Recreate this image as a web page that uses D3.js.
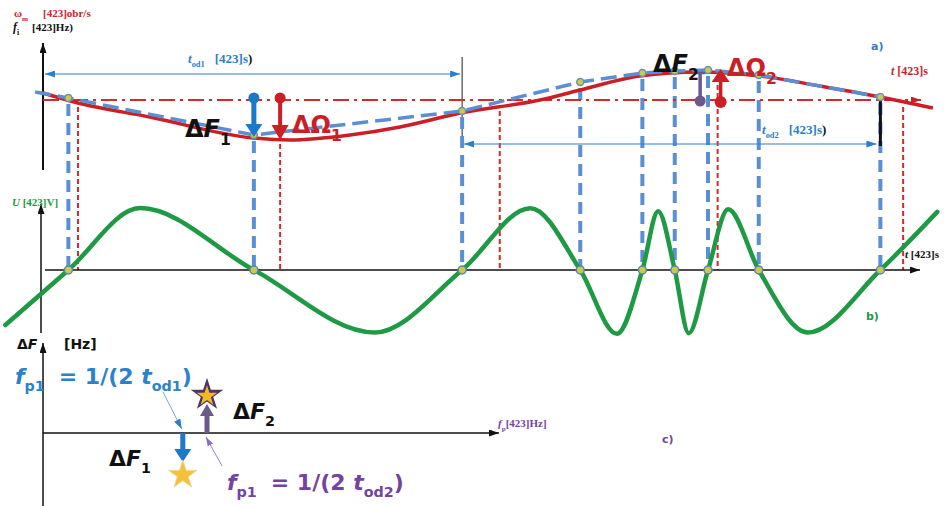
<!DOCTYPE html>
<html>
<head>
<meta charset="utf-8">
<script src="https://cdn.jsdelivr.net/npm/d3@7"></script>
<style>body{margin:0;background:#fff}</style>
</head>
<body>
<svg id="chart" width="947" height="506"></svg>
<script>
// a) rotor speed (red) and instantaneous frequency (blue), deviation from nominal
const omT = [0, 0.4, 1.22, 2.4, 2.82, 3.51, 4.08, 4.77, 5.68, 6.14, 6.82, 7.51, 8.19, 8.88, 9.57, 10.17];
const omV = [7, -3, -17, -38, -40, -35, -27, -13, 0, 10, 24, 28, 24, 14, 3, -8];
const fiT = [-0.09, 0.29, 2.41, 4.79, 6.14, 6.85, 7.22, 7.6, 8.18, 9.57];
const fiV = [8, 2, -35, -11, 18, 27, 29, 30, 25, 3];
const crossT = fiT.slice(1);
const omMarkT = [0.4, 2.71, 5.22, 7.71, 9.83];
const omMarkV = [-3, -40, -7, 27, -3];
const dF2T = 7.51, dF2V = 27;

// b) voltage
const uT = [-0.43, 0.29, 1.11, 2.41, 3.79, 4.79, 5.57, 6.14, 6.56, 6.85, 7.03, 7.22, 7.38, 7.6, 7.83, 8.18, 8.74, 9.57, 10.22];
const uV = [-0.88, 0, 0.99, 0, -1.0, 0, 0.99, 0, -1.02, 0, 0.94, 0, -1.01, 0, 0.97, 0, -1.0, 0, 0.93];

// c) spectrum
const specFp = [0.104, 0.122];
const specDF = [-1.0, 0.95];

const svg = d3.select("#chart");
const x  = d3.scaleLinear().domain([0, 10]).range([43, 918]);
const yA = d3.scaleLinear().domain([-50, 50]).range([150, 50]);
const yB = d3.scaleLinear().domain([-1, 1]).range([332.5, 207.5]);
const xC = d3.scaleLinear().domain([0, 0.34]).range([43, 500]);
const yC = d3.scaleLinear().domain([-1, 1]).range([473, 393]);

const RED = "#cc1f25", BLUED = "#5b8fd3", GREEN = "#1e9a45", BLUE = "#1c78c8", PURP = "#6a5a8c", PTXT = "#7443a2";

const defs = svg.append("defs");
function marker(id, color, w, h) {
  defs.append("marker").attr("id", id).attr("markerUnits", "userSpaceOnUse")
    .attr("markerWidth", w).attr("markerHeight", h).attr("refX", w).attr("refY", h / 2)
    .attr("orient", "auto-start-reverse")
    .append("path").attr("d", `M0,0L${w},${h/2}L0,${h}Z`).attr("fill", color);
}
marker("aBlack", "#111", 10, 7);
marker("aBlue", "#2a7fcc", 10, 7);
marker("aRed", RED, 10, 7);
marker("aPurp", "#8a70b8", 9, 6);

function rich(x0, y0, size, color, parts, opt = {}) {
  const t = svg.append("text").attr("x", x0).attr("y", y0).attr("font-size", size)
    .attr("font-family", opt.family || "DejaVu Sans").attr("font-weight", opt.weight || "bold")
    .attr("fill", color);
  let shifted = 0;
  parts.forEach(p => {
    const s = t.append("tspan").text(p.t);
    const target = p.sub ? size * 0.32 : 0;
    if (target !== shifted) { s.attr("dy", target - shifted); shifted = target; }
    if (p.sub) s.attr("font-size", size * 0.65);
    if (p.it) s.attr("font-style", "italic");
    if (p.fill) s.attr("fill", p.fill);
    if (p.dx) s.attr("dx", p.dx);
  });
  return t;
}

function thickArrow(px, y0, y1, color, w, hw, hl) {
  const dir = y1 > y0 ? 1 : -1;
  svg.append("line").attr("x1", px).attr("x2", px).attr("y1", y0).attr("y2", y1 - dir * hl)
    .attr("stroke", color).attr("stroke-width", w);
  svg.append("path").attr("d", `M${px - hw / 2},${y1 - dir * hl}L${px + hw / 2},${y1 - dir * hl}L${px},${y1}Z`)
    .attr("fill", color);
}

// ---------- verticals (behind curves)
svg.append("g").selectAll("line").data(omMarkT).join("line")
  .attr("x1", d => x(d)).attr("x2", d => x(d))
  .attr("y1", (d, i) => yA(omMarkV[i]) + 4).attr("y2", yB(0))
  .attr("stroke", "#d42a2a").attr("stroke-width", 2).attr("stroke-dasharray", "5,3");

svg.append("line").attr("x1", x(crossT[2])).attr("x2", x(crossT[2])).attr("y1", 57).attr("y2", 145)
  .attr("stroke", "#222").attr("stroke-width", 1);

svg.append("g").selectAll("line").data(crossT).join("line")
  .attr("x1", d => x(d)).attr("x2", d => x(d))
  .attr("y1", (d, i) => yA(fiV[i + 1]) + 6).attr("y2", yB(0))
  .attr("stroke", BLUED).attr("stroke-width", 4).attr("stroke-dasharray", "12,7");

// ---------- panel a
svg.append("line").attr("x1", x(0)).attr("x2", x(0)).attr("y1", 170).attr("y2", 43)
  .attr("stroke", "#111").attr("stroke-width", 2).attr("marker-end", "url(#aBlack)");

svg.append("line").attr("x1", x(0)).attr("x2", 921).attr("y1", yA(0)).attr("y2", yA(0))
  .attr("stroke", "#d42a2a").attr("stroke-width", 2).attr("stroke-dasharray", "16,5,3,5")
  .attr("marker-end", "url(#aRed)");

// time interval arrows
svg.append("line").attr("x1", x(0) + 2).attr("x2", x(crossT[2]) - 2).attr("y1", 74).attr("y2", 74)
  .attr("stroke", "#2a7fcc").attr("stroke-width", 1.2)
  .attr("marker-start", "url(#aBlue)").attr("marker-end", "url(#aBlue)");
svg.append("line").attr("x1", x(crossT[2]) + 2).attr("x2", x(crossT[8]) - 4).attr("y1", 144).attr("y2", 144)
  .attr("stroke", "#2a7fcc").attr("stroke-width", 1.2)
  .attr("marker-start", "url(#aBlue)").attr("marker-end", "url(#aBlue)");

const lineA = d3.line().curve(d3.curveMonotoneX);
svg.append("path")
  .attr("d", lineA(omT.map((t, i) => [x(t), yA(omV[i])])))
  .attr("fill", "none").attr("stroke", RED).attr("stroke-width", 3.5);

svg.append("path")
  .attr("d", d3.line()(fiT.map((t, i) => [x(t), yA(fiV[i])])))
  .attr("fill", "none").attr("stroke", BLUED).attr("stroke-width", 3.5)
  .attr("stroke-dasharray", "16,7").attr("stroke-linejoin", "round");

svg.append("line").attr("x1", x(crossT[8])).attr("x2", x(crossT[8])).attr("y1", 94).attr("y2", 146)
  .attr("stroke", "#111").attr("stroke-width", 3);

svg.append("g").selectAll("circle").data(crossT).join("circle")
  .attr("cx", d => x(d)).attr("cy", (d, i) => yA(fiV[i + 1]))
  .attr("r", 3.5).attr("fill", "#c8cc4a").attr("stroke", "#6a8fb8").attr("stroke-width", 1.5);

// delta markers in a)
const xdF1 = x(crossT[1]);
svg.append("circle").attr("cx", xdF1).attr("cy", yA(2)).attr("r", 5.5).attr("fill", BLUE);
thickArrow(xdF1, yA(2), yA(fiV[2]) + 2, BLUE, 5, 17, 13);

const xdO1 = x(omMarkT[1]);
svg.append("circle").attr("cx", xdO1).attr("cy", yA(2)).attr("r", 5.5).attr("fill", RED);
thickArrow(xdO1, yA(2), yA(omMarkV[1]), RED, 4, 17, 15);

const xdF2 = x(dF2T);
svg.append("line").attr("x1", xdF2).attr("x2", xdF2).attr("y1", yA(dF2V)).attr("y2", yA(0))
  .attr("stroke", PURP).attr("stroke-width", 3.5);
svg.append("line").attr("x1", xdF2 - 5).attr("x2", xdF2 + 5).attr("y1", yA(dF2V)).attr("y2", yA(dF2V))
  .attr("stroke", PURP).attr("stroke-width", 2.5);
svg.append("circle").attr("cx", xdF2).attr("cy", yA(-1)).attr("r", 5.5).attr("fill", PURP);

const xdO2 = x(omMarkT[3]) + 3;
svg.append("circle").attr("cx", xdO2).attr("cy", yA(-2)).attr("r", 6).attr("fill", RED);
thickArrow(xdO2, yA(-2), yA(omMarkV[3]) - 4, RED, 3.5, 18, 13);

// labels a)
rich(14, 17, 11, "#c0282d", [{ t: "ω" }, { t: "m", sub: true }], { family: "Liberation Serif" });
rich(43, 17, 11, "#c0282d", [{ t: "[423]obr/s" }], { family: "Liberation Serif" });
rich(13, 31, 12, "#111", [{ t: "f", it: true }, { t: "i", sub: true }], { family: "Liberation Serif" });
rich(32, 31, 11, "#111", [{ t: "[423]Hz)" }], { family: "Liberation Serif" });
rich(188, 63, 13, "#2a7fcc", [{ t: "t", it: true }, { t: "od1", sub: true }, { t: "[423]s", dx: 10 }, { t: ")", fill: "#111" }], { family: "Liberation Serif" });
rich(762, 134, 13, "#2a7fcc", [{ t: "t", it: true }, { t: "od2", sub: true }, { t: "[423]s", dx: 10 }, { t: ")", fill: "#111" }], { family: "Liberation Serif" });
rich(891, 75, 12, "#c0282d", [{ t: "t", it: true }, { t: " [423]s" }], { family: "Liberation Serif" });
rich(871, 50, 11, "#3a7abf", [{ t: "a)" }]);
rich(185, 137, 24, "#111", [{ t: "Δ" }, { t: "F", it: true }, { t: "1", sub: true }]);
rich(292, 133, 24, RED, [{ t: "ΔΩ" }, { t: "1", sub: true }]);
rich(653, 72, 24, "#111", [{ t: "Δ" }, { t: "F", it: true }, { t: "2", sub: true }]);
rich(727, 76, 24, RED, [{ t: "ΔΩ" }, { t: "2", sub: true }]);

// ---------- panel b
svg.append("line").attr("x1", 41).attr("x2", 41).attr("y1", 333).attr("y2", 204)
  .attr("stroke", "#111").attr("stroke-width", 1.5).attr("marker-end", "url(#aBlack)");
svg.append("line").attr("x1", 45).attr("x2", 920).attr("y1", yB(0)).attr("y2", yB(0))
  .attr("stroke", "#111").attr("stroke-width", 1.5).attr("marker-end", "url(#aBlack)");

svg.append("path")
  .attr("d", d3.line().curve(d3.curveMonotoneX)(uT.map((t, i) => [x(t), yB(uV[i])])))
  .attr("fill", "none").attr("stroke", GREEN).attr("stroke-width", 4.5).attr("stroke-linecap", "round");

svg.append("g").selectAll("circle").data(crossT).join("circle")
  .attr("cx", d => x(d)).attr("cy", yB(0))
  .attr("r", 4).attr("fill", "#c8cc4a").attr("stroke", "#5a80b8").attr("stroke-width", 1.5);

rich(12, 206, 11, GREEN, [{ t: "U", it: true }, { t: " [423]V]" }], { family: "Liberation Serif" });
rich(905, 258, 11, "#111", [{ t: "t", it: true }, { t: " [423]s" }], { family: "Liberation Serif" });
rich(866, 320, 11, GREEN, [{ t: "b)" }]);

// ---------- panel c
svg.append("line").attr("x1", 43).attr("x2", 43).attr("y1", 506).attr("y2", 343)
  .attr("stroke", "#111").attr("stroke-width", 1.5).attr("marker-end", "url(#aBlack)");
svg.append("line").attr("x1", 43).attr("x2", 499).attr("y1", yC(0)).attr("y2", yC(0))
  .attr("stroke", "#111").attr("stroke-width", 1.5).attr("marker-end", "url(#aBlack)");

const xs1 = xC(specFp[0]), xs2 = xC(specFp[1]);
// thin pointer arrows
svg.append("line").attr("x1", 163).attr("y1", 392).attr("x2", xs1 - 1).attr("y2", yC(0) - 4)
  .attr("stroke", "#7aa8d8").attr("stroke-width", 1).attr("marker-end", "url(#aBlue)");
svg.append("line").attr("x1", 222).attr("y1", 466).attr("x2", xs2 - 1).attr("y2", yC(0) + 4)
  .attr("stroke", "#9a82c8").attr("stroke-width", 1).attr("marker-end", "url(#aPurp)");

thickArrow(xs1, yC(0), yC(specDF[0]) - 11, BLUE, 5, 17, 13);
thickArrow(xs2, yC(0), yC(specDF[1]) + 9, PURP, 5, 14, 12);

const star = d3.symbol().type(d3.symbolStar);
svg.append("path").attr("d", star.size(250)())
  .attr("transform", `translate(${xs1},${yC(specDF[0]) + 2})`).attr("fill", "#f5c13a").attr("stroke", "#f0d890").attr("stroke-width", 1);
svg.append("path").attr("d", star.size(330)())
  .attr("transform", `translate(${xs2},${yC(specDF[1])})`).attr("fill", "#4a3468");
svg.append("path").attr("d", star.size(130)())
  .attr("transform", `translate(${xs2},${yC(specDF[1]) + 1})`).attr("fill", "#f5b820");

rich(17, 349, 14, "#111", [{ t: "Δ" }, { t: "F", it: true }]);
rich(64, 349, 14, "#111", [{ t: "[Hz]" }]);
rich(15, 384, 22, "#2b82cc", [{ t: "f", it: true }, { t: "p1", sub: true }, { t: "= 1/(2 ", dx: 14 }, { t: "t", it: true }, { t: "od1", sub: true }, { t: ")" }]);
rich(109, 466, 22, "#111", [{ t: "Δ" }, { t: "F", it: true }, { t: "1", sub: true }]);
rich(233, 419, 22, "#111", [{ t: "Δ" }, { t: "F", it: true }, { t: "2", sub: true }]);
rich(227, 490, 22, PTXT, [{ t: "f", it: true }, { t: "p1", sub: true }, { t: "= 1/(2 ", dx: 14 }, { t: "t", it: true }, { t: "od2", sub: true }, { t: ")" }]);
rich(498, 427, 11, PTXT, [{ t: "f", it: true }, { t: "p", sub: true }, { t: "[423]Hz]" }], { family: "Liberation Serif" });
rich(662, 443, 11, PTXT, [{ t: "c)" }]);
</script>
</body>
</html>
